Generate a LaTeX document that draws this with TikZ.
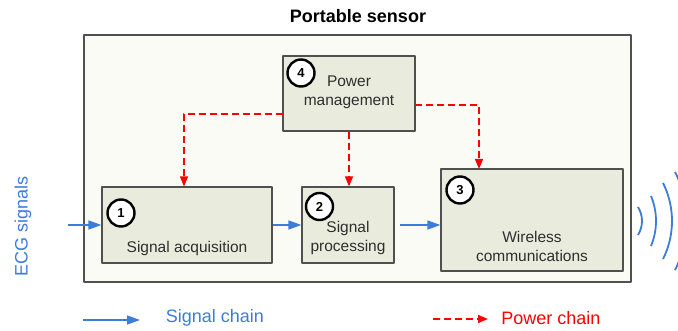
\documentclass[tikz,border=0pt]{standalone}
\usepackage{fontspec}
\setmainfont{Liberation Sans}
\usetikzlibrary{arrows.meta}
\definecolor{sigblue}{HTML}{3C7DD9}
\definecolor{boxfill}{HTML}{E9ECDD}
\definecolor{sensorfill}{HTML}{FBFBF6}
\definecolor{edgegray}{HTML}{505050}
\definecolor{txtgray}{HTML}{2E2E2E}
\tikzset{
  block/.style={draw=edgegray, line width=1.2pt, fill=boxfill, inner sep=0pt},
  num/.style={circle, draw=black, line width=2.4pt, fill=white, minimum size=27pt, inner sep=0pt, font=\fontsize{13}{13}\selectfont\bfseries},
  lbl/.style={text=txtgray, align=center, font=\fontsize{15.5}{19}\selectfont},
  sig/.style={draw=sigblue, line width=1.4pt, -{Triangle[length=13pt,width=9pt]}},
  pwr/.style={draw=red, line width=1.3pt, dash pattern=on 7pt off 4pt, -{Triangle[length=10pt,width=8pt,fill=red]}}
}
\begin{document}
\begin{tikzpicture}[x=1pt,y=-1pt,line join=round]
\useasboundingbox (0,0) rectangle (678,331);
\clip (0,0) rectangle (678,331);
% sensor frame
\node[draw=edgegray, line width=1.3pt, fill=sensorfill, minimum width=547pt, minimum height=247pt, inner sep=0pt] (sensor) at (357.5,158.5) {};
\node[font=\fontsize{18}{18}\selectfont\bfseries] (title) at (358,16) {Portable sensor};

% blocks
\node[block, minimum width=132pt, minimum height=75pt] (pm) at (349,93.5) {};
\node[block, minimum width=170pt, minimum height=76pt] (acq) at (187,225) {};
\node[block, minimum width=92pt, minimum height=76pt] (proc) at (348,225) {};
\node[block, minimum width=182pt, minimum height=102pt] (wc) at (532,220) {};
\node[lbl] (pmtxt) at (349,92) {Power\\management};
\node[lbl] (acqtxt) at (187,248) {Signal acquisition};
\node[lbl] (proctxt) at (348,238) {Signal\\processing};
\node[lbl] (wctxt) at (532,246) {Wireless\\communications};
\foreach \n/\x/\y in {1/121/213, 2/319.5/206.5, 3/460/190, 4/301/73}{\node[num] (c\n) at (\x,\y) {\n};}

% signal chain
\coordinate (ecg) at (68,225);
\node[rotate=90, text=sigblue, font=\fontsize{18}{18}\selectfont] (ecgtxt) at (23,226) {ECG signals};
\draw[sig] (ecg) -- (acq.west);
\draw[sig] (acq.east) -- (proc.west);
\draw[sig, shorten <=5pt] (proc.east) -- (proc.east -| wc.west);

% power chain
\coordinate (pl) at (283,114);
\coordinate (pr) at (415,105);
\coordinate (wcin) at (479,169);
\draw[pwr] (pl) -| ([xshift=-3pt]acq.north);
\draw[pwr] (pm.south) -- (pm.south |- proc.north);
\draw[pwr] (pr) -| (wcin);

% radio waves
\foreach \c/\r/\a in {615.5/26.5/32, 591/65/22.6, 587/85/26.6, 576.6/110/26.5}{\draw[sigblue, line width=1.8pt] (\c,221) ++(-\a:\r pt) arc(-\a:\a:\r pt);}

% legend
\coordinate (sa) at (83,320);
\coordinate (sb) at (140,320);
\draw[sig] (sa) -- (sb);
\node[text=sigblue, font=\fontsize{18}{18}\selectfont] (sigtxt) at (215,318) {Signal chain};
\coordinate (pa) at (433,319);
\coordinate (pb) at (488,319);
\draw[pwr] (pa) -- (pb);
\node[text=red, font=\fontsize{18}{18}\selectfont] (pwrtxt) at (551,318) {Power chain};
\end{tikzpicture}
\end{document}
